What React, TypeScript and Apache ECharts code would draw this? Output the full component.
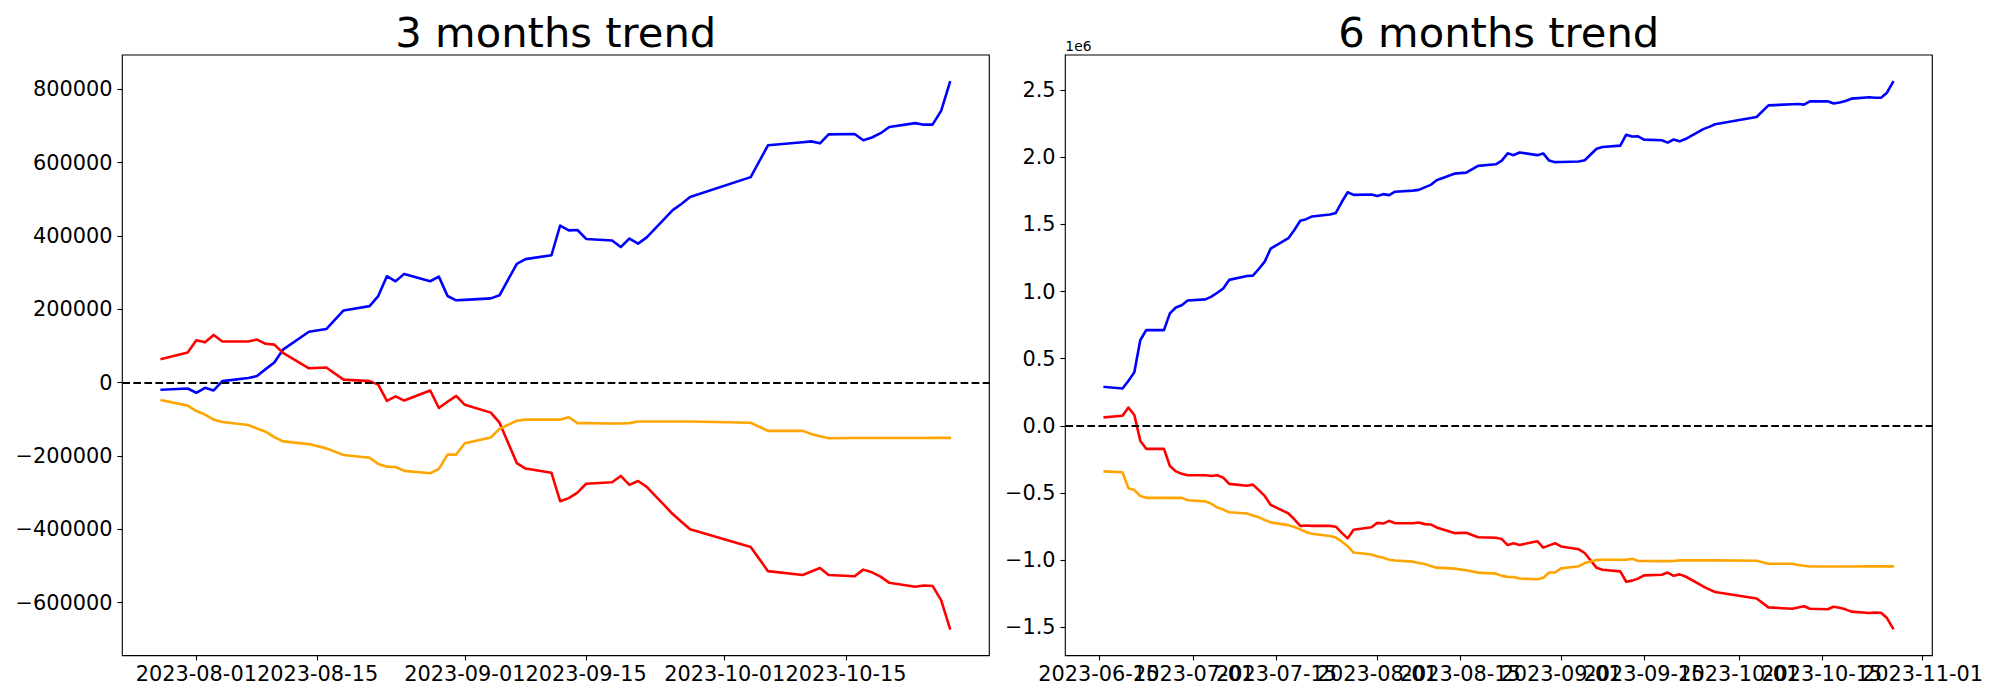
import React, { useEffect, useRef } from "react";
import * as echarts from "echarts";

// ---------- data: 3 months panel ----------
const LEFT_DATES = [
  "2023-07-28", "2023-07-31", "2023-08-01", "2023-08-02", "2023-08-03", "2023-08-04",
  "2023-08-07", "2023-08-08", "2023-08-09", "2023-08-10", "2023-08-11", "2023-08-14",
  "2023-08-16", "2023-08-18", "2023-08-21", "2023-08-22", "2023-08-23", "2023-08-24",
  "2023-08-25", "2023-08-28", "2023-08-29", "2023-08-30", "2023-08-31", "2023-09-01",
  "2023-09-04", "2023-09-05", "2023-09-07", "2023-09-08", "2023-09-11", "2023-09-12",
  "2023-09-13", "2023-09-14", "2023-09-15", "2023-09-18", "2023-09-19", "2023-09-20",
  "2023-09-21", "2023-09-22", "2023-09-25", "2023-09-26", "2023-09-27", "2023-10-04",
  "2023-10-06", "2023-10-10", "2023-10-11", "2023-10-12", "2023-10-13", "2023-10-16",
  "2023-10-17", "2023-10-18", "2023-10-19", "2023-10-20", "2023-10-23", "2023-10-24",
  "2023-10-25", "2023-10-26", "2023-10-27",
];
const LEFT_BLUE = [
  -19100, -15900, -27500, -13800, -21200, 4200,
  12700, 18000, 37000, 55100, 90100, 138800,
  146200, 197100, 208700, 236300, 290300, 276600,
  296700, 276600, 289300, 236300, 224600, 225700,
  229900, 238400, 324200, 337000, 347500, 428600,
  415400, 416400, 392000, 387800, 369800, 393100,
  379300, 396300, 470500, 487400, 506500, 560500,
  647400, 655500, 658000, 652700, 677100, 678100,
  661200, 668600, 680300, 697200, 707800, 703600,
  703600, 741700, 819100,
];
const LEFT_RED = [
  64600, 82600, 115500, 110200, 130300, 112300,
  112300, 117600, 106000, 103800, 81600, 39200,
  41300, 8500, 4200, -5300, -49800, -37100,
  -48700, -21200, -68900, -52000, -36000, -60400,
  -81600, -109100, -219300, -234200, -245800, -323200,
  -314700, -299900, -275500, -271300, -254300, -278700,
  -268100, -284000, -358100, -379300, -399500, -448200,
  -513900, -524500, -515000, -505400, -524500, -527700,
  -509700, -517100, -528700, -545700, -556300, -553100,
  -554200, -593400, -669700,
];
const LEFT_ORANGE = [
  -47700, -62500, -77400, -86900, -100700, -107000,
  -115500, -125000, -133500, -148300, -160000, -167400,
  -179100, -197100, -204500, -221500, -228900, -229900,
  -240500, -246900, -235200, -196000, -196000, -165300,
  -149400, -126100, -103800, -100700, -100700, -100700,
  -94300, -110200, -110200, -111300, -111300, -110200,
  -106000, -106000, -106000, -106000, -106000, -109100,
  -131400, -131400, -140000, -146200, -151500, -151000,
  -151000, -151000, -151000, -151000, -150800, -150800,
  -150500, -150500, -150500,
];

// ---------- data: 6 months panel ----------
const RIGHT_DATES = [
  "2023-06-16", "2023-06-19", "2023-06-20", "2023-06-21", "2023-06-22", "2023-06-23",
  "2023-06-26", "2023-06-27", "2023-06-28", "2023-06-29", "2023-06-30", "2023-07-03",
  "2023-07-04", "2023-07-05", "2023-07-06", "2023-07-07", "2023-07-10", "2023-07-11",
  "2023-07-12", "2023-07-13", "2023-07-14", "2023-07-17", "2023-07-18", "2023-07-19",
  "2023-07-20", "2023-07-21", "2023-07-24", "2023-07-25", "2023-07-26", "2023-07-27",
  "2023-07-28", "2023-07-31", "2023-08-01", "2023-08-02", "2023-08-03", "2023-08-04",
  "2023-08-07", "2023-08-08", "2023-08-09", "2023-08-10", "2023-08-11", "2023-08-14",
  "2023-08-16", "2023-08-18", "2023-08-21", "2023-08-22", "2023-08-23", "2023-08-24",
  "2023-08-25", "2023-08-28", "2023-08-29", "2023-08-30", "2023-08-31", "2023-09-01",
  "2023-09-04", "2023-09-05", "2023-09-07", "2023-09-08", "2023-09-11", "2023-09-12",
  "2023-09-13", "2023-09-14", "2023-09-15", "2023-09-18", "2023-09-19", "2023-09-20",
  "2023-09-21", "2023-09-22", "2023-09-25", "2023-09-26", "2023-09-27", "2023-10-04",
  "2023-10-06", "2023-10-10", "2023-10-11", "2023-10-12", "2023-10-13", "2023-10-16",
  "2023-10-17", "2023-10-18", "2023-10-19", "2023-10-20", "2023-10-23", "2023-10-24",
  "2023-10-25", "2023-10-26", "2023-10-27",
];
const RIGHT_BLUE = [
  289900, 278300, 335000, 400000, 637700, 713100,
  713100, 837700, 881200, 898600, 933400, 942100,
  962300, 991300, 1023200, 1087000, 1116000, 1118900,
  1168100, 1223200, 1318900, 1397100, 1458000, 1527600,
  1539200, 1559500, 1574000, 1585500, 1666700, 1739200,
  1720100, 1723300, 1711700, 1725400, 1718000, 1743400,
  1751900, 1757200, 1776200, 1794300, 1829300, 1878000,
  1885400, 1936300, 1947900, 1975500, 2029500, 2015800,
  2035900, 2015800, 2028500, 1975500, 1963800, 1964900,
  1969100, 1977600, 2063400, 2076200, 2086700, 2167800,
  2154600, 2155600, 2131200, 2127000, 2109000, 2132300,
  2118500, 2135500, 2209700, 2226600, 2245700, 2299700,
  2386600, 2394700, 2397200, 2391900, 2416300, 2417300,
  2400400, 2407800, 2419500, 2436400, 2447000, 2442800,
  2442800, 2480900, 2558300,
];
const RIGHT_RED = [
  63800, 75400, 136200, 81200, -110100, -171000,
  -171000, -298500, -339100, -356500, -368100, -368100,
  -373900, -368100, -385500, -431900, -446400, -437700,
  -478300, -521800, -588400, -652200, -695700, -745000,
  -742100, -745000, -745000, -750700, -797100, -837700,
  -773100, -755100, -722200, -727500, -707400, -725400,
  -725400, -720100, -731700, -733900, -756100, -798500,
  -796400, -829200, -833500, -843000, -887500, -874800,
  -886400, -858900, -906600, -889700, -873700, -898100,
  -919300, -946800, -1057000, -1071900, -1083500, -1160900,
  -1152400, -1137600, -1113200, -1109000, -1092000, -1116400,
  -1105800, -1121700, -1195800, -1217000, -1237200, -1285900,
  -1351600, -1362200, -1352700, -1343100, -1362200, -1365400,
  -1347400, -1354800, -1366400, -1383400, -1394000, -1390800,
  -1391900, -1431100, -1507400,
];
const RIGHT_ORANGE = [
  -339100, -344900, -463800, -478300, -521800, -536300,
  -536300, -536300, -536300, -536300, -553700, -562300,
  -579700, -608700, -623200, -643500, -652200, -666700,
  -681200, -701500, -718900, -739100, -753600, -771000,
  -791300, -802900, -820300, -831900, -860900, -895700,
  -943400, -958200, -973100, -982600, -996400, -1002700,
  -1011200, -1020700, -1029200, -1044000, -1055700, -1063100,
  -1074800, -1092800, -1100200, -1117200, -1124600, -1125600,
  -1136200, -1142600, -1130900, -1091700, -1091700, -1061000,
  -1045100, -1021800, -999500, -996400, -996400, -996400,
  -990000, -1005900, -1005900, -1007000, -1007000, -1005900,
  -1001700, -1001700, -1001700, -1001700, -1001700, -1004800,
  -1027100, -1027100, -1035700, -1041900, -1047200, -1046700,
  -1046700, -1046700, -1046700, -1046700, -1046500, -1046500,
  -1046200, -1046200, -1046200,
];

// ---------- ticks & texts ----------
const LEFT_X_TICKS = ["2023-08-01", "2023-08-15", "2023-09-01", "2023-09-15", "2023-10-01", "2023-10-15"];
// right panel ticks, split in two alternating sets so that the overlapping labels are all drawn
const RIGHT_X_TICKS_MID = ["2023-06-15", "2023-07-15", "2023-08-15", "2023-09-15", "2023-10-15"];
const RIGHT_X_TICKS_START = ["2023-07-01", "2023-08-01", "2023-09-01", "2023-10-01", "2023-11-01"];
const LEFT_Y_TICKS = [-600000, -400000, -200000, 0, 200000, 400000, 600000, 800000];
const RIGHT_Y_TICKS = [-1500000, -1000000, -500000, 0, 500000, 1000000, 1500000, 2000000, 2500000];
const TITLES = ["3 months trend", "6 months trend"];
const OFFSET_TEXT = "1e6";

const FONT = "DejaVu Sans";
const PT = 100 / 72;
const MINUS = "\u2212";

function ts(d: string): number {
  return Date.parse(d + "T00:00:00Z");
}
function limits(vals: number[]): [number, number] {
  const mn = Math.min(...vals);
  const mx = Math.max(...vals);
  const p = (mx - mn) * 0.05;
  return [mn - p, mx + p];
}
function fmtDate(v: number): string {
  return new Date(v).toISOString().slice(0, 10);
}

const GRIDS = [
  { left: 122.3, top: 55, width: 867, height: 600.6 },
  { left: 1065.3, top: 55, width: 867, height: 600.6 },
];

export default function App() {
  const ref = useRef<HTMLDivElement>(null);

  useEffect(() => {
    if (!ref.current) return;
    const chart = echarts.init(ref.current, null, { renderer: "svg" });

    const tickFont = 15 * PT;
    const lx = limits(LEFT_DATES.map(ts));
    const rx = limits(RIGHT_DATES.map(ts));
    const ly = limits([...LEFT_BLUE, ...LEFT_RED, ...LEFT_ORANGE]);
    const ry = limits([...RIGHT_BLUE, ...RIGHT_RED, ...RIGHT_ORANGE]);

    const xAxisDef = (gi: number, mm: [number, number], ticks: string[]) => {
      const vals = ticks.map(ts);
      return {
        type: "value",
        gridIndex: gi,
        position: "bottom",
        offset: 0,
        min: mm[0],
        max: mm[1],
        axisLine: { show: false, onZero: false },
        splitLine: { show: false },
        axisTick: {
          show: true,
          inside: false,
          length: 3.5 * PT,
          customValues: vals,
          lineStyle: { color: "#000", width: 0.8 * PT },
        },
        axisLabel: {
          show: true,
          customValues: vals,
          formatter: (v: number) => fmtDate(v),
          color: "#000",
          fontFamily: FONT,
          fontSize: tickFont,
          lineHeight: tickFont,
          margin: 7.9,
          hideOverlap: false,
          showMinLabel: true,
          showMaxLabel: true,
        },
      };
    };

    const yAxisDef = (gi: number, mm: [number, number], ticks: number[], fmt: (v: number) => string) => ({
      type: "value",
      gridIndex: gi,
      position: "left",
      min: mm[0],
      max: mm[1],
      axisLine: { show: false, onZero: false },
      splitLine: { show: false },
      axisTick: {
        show: true,
        inside: false,
        length: 3.5 * PT,
        customValues: ticks,
        lineStyle: { color: "#000", width: 0.8 * PT },
      },
      axisLabel: {
        show: true,
        customValues: ticks,
        formatter: fmt,
        color: "#000",
        fontFamily: FONT,
        fontSize: tickFont,
        margin: 7 * PT,
        hideOverlap: false,
        showMinLabel: true,
        showMaxLabel: true,
      },
    });

    const line = (xi: number, yi: number, dates: string[], vals: number[], color: string, z: number, zero: boolean) => ({
      type: "line",
      xAxisIndex: xi,
      yAxisIndex: yi,
      data: dates.map((d, i) => [ts(d), vals[i]]),
      symbol: "none",
      showSymbol: false,
      silent: true,
      z,
      lineStyle: { color, width: 2.6, join: "round", cap: "square" },
      itemStyle: { color },
      emphasis: { disabled: true },
      markLine: zero
        ? {
            silent: true,
            symbol: ["none", "none"],
            label: { show: false },
            lineStyle: { type: [7.7, 3.33], color: "#000", width: 1.5 * PT },
            emphasis: { disabled: true },
            data: [{ yAxis: 0 }],
          }
        : undefined,
    });

    const leftFmt = (v: number) => (v < 0 ? MINUS + String(Math.abs(v)) : String(v));
    const rightFmt = (v: number) => {
      const s = (Math.abs(v) / 1e6).toFixed(1);
      return v < 0 ? MINUS + s : s;
    };

    const option = {
      animation: false,
      backgroundColor: "#ffffff",
      grid: GRIDS.map((g) => ({
        ...g,
        show: true,
        borderColor: "#000",
        borderWidth: 0.8 * PT,
        backgroundColor: "transparent",
        containLabel: false,
      })),
      xAxis: [
        xAxisDef(0, lx, LEFT_X_TICKS),
        xAxisDef(1, rx, RIGHT_X_TICKS_MID),
        xAxisDef(1, rx, RIGHT_X_TICKS_START),
      ],
      yAxis: [yAxisDef(0, ly, LEFT_Y_TICKS, leftFmt), yAxisDef(1, ry, RIGHT_Y_TICKS, rightFmt)],
      series: [
        line(0, 0, LEFT_DATES, LEFT_BLUE, "#0000ff", 2, false),
        line(0, 0, LEFT_DATES, LEFT_RED, "#ff0000", 3, false),
        line(0, 0, LEFT_DATES, LEFT_ORANGE, "#ffa500", 4, true),
        line(1, 1, RIGHT_DATES, RIGHT_BLUE, "#0000ff", 2, false),
        line(1, 1, RIGHT_DATES, RIGHT_RED, "#ff0000", 3, false),
        line(1, 1, RIGHT_DATES, RIGHT_ORANGE, "#ffa500", 4, true),
      ],
      graphic: [
        ...GRIDS.map((g, i) => ({
          type: "text",
          x: g.left + g.width / 2,
          y: 55 - 6 * PT - 0.346 * 30 * PT,
          silent: true,
          style: {
            text: TITLES[i],
            fontFamily: FONT,
            fontSize: 30 * PT,
            fill: "#000",
            textAlign: "center",
            textVerticalAlign: "middle",
          },
        })),
        {
          type: "text",
          x: GRIDS[1].left,
          y: 55 - 3 * PT - 0.346 * 10 * PT,
          silent: true,
          style: {
            text: OFFSET_TEXT,
            fontFamily: FONT,
            fontSize: 10 * PT,
            fill: "#000",
            textAlign: "left",
            textVerticalAlign: "middle",
          },
        },
      ],
    };

    chart.setOption(option as any);
    return () => chart.dispose();
  }, []);

  return (
    <div
      ref={ref}
      style={{ position: "absolute", left: 0, top: 0, width: 2000, height: 700, background: "#fff" }}
    />
  );
}
